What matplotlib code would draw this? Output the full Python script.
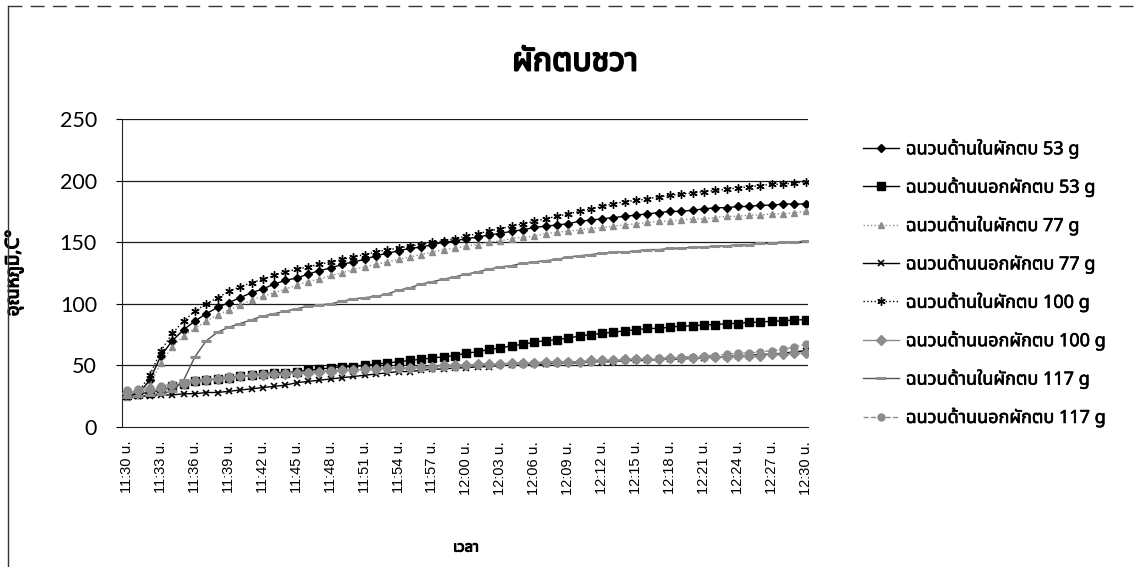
import matplotlib
matplotlib.use("Agg")
import matplotlib.pyplot as plt
import matplotlib.patheffects as pe
from matplotlib import font_manager
from matplotlib.ft2font import FT2Font
from matplotlib.lines import Line2D

# ---------------------------------------------------------------- data
times = [f"{11 + (30 + m) // 60}:{(30 + m) % 60:02d} น." for m in range(61)]
tick_idx = list(range(0, 61, 3))

in_53 = [25, 27, 38, 58, 70, 79, 86, 92, 97, 101,
         105, 109, 112, 116, 119, 121, 124, 127, 129, 132,
         134, 136, 139, 141, 143, 145, 146, 148, 150, 151,
         153, 154, 156, 157, 159, 160, 162, 163, 164, 165,
         167, 168, 169, 170, 171, 172, 173, 174, 175, 175,
         176, 177, 178, 178, 179, 179, 180, 180, 181, 181,
         181]
out_53 = [26, 27, 28, 30, 33, 35, 37, 38, 39, 40,
          41, 42, 43, 44, 44, 45, 46, 47, 48, 49,
          49, 50, 51, 52, 53, 54, 55, 56, 57, 58,
          60, 61, 63, 64, 66, 67, 69, 70, 71, 72,
          74, 75, 76, 77, 78, 79, 80, 80, 81, 82,
          82, 83, 83, 84, 84, 85, 85, 86, 86, 87,
          87]
in_77 = [24, 26, 34, 52, 65, 74, 80, 86, 91, 95,
         99, 103, 106, 109, 112, 115, 118, 120, 123, 125,
         128, 130, 132, 134, 136, 138, 140, 142, 144, 145,
         147, 148, 150, 151, 153, 154, 155, 157, 158, 159,
         160, 161, 162, 163, 164, 165, 166, 167, 167, 168,
         169, 169, 170, 171, 171, 172, 172, 173, 173, 174,
         175]
out_77 = [24, 25, 25, 26, 26, 27, 27, 28, 28, 29,
          30, 31, 32, 33, 34, 36, 37, 38, 39, 40,
          41, 42, 43, 44, 45, 45, 46, 47, 47, 48,
          48, 49, 49, 50, 50, 51, 51, 51, 52, 52,
          52, 53, 53, 53, 54, 54, 54, 55, 55, 55,
          56, 56, 57, 57, 58, 58, 59, 59, 60, 61,
          62]
in_100 = [26, 28, 42, 62, 76, 86, 94, 100, 105, 110,
          114, 117, 120, 123, 126, 128, 130, 132, 134, 136,
          138, 140, 142, 144, 145, 147, 148, 150, 151, 153,
          155, 157, 159, 161, 163, 165, 167, 169, 171, 173,
          175, 177, 179, 181, 183, 184, 185, 187, 188, 189,
          190, 191, 192, 193, 194, 195, 196, 197, 197, 198,
          199]
out_100 = [28, 29, 30, 31, 33, 35, 37, 38, 39, 40,
           41, 42, 42, 43, 43, 44, 44, 45, 45, 46,
           46, 47, 47, 48, 48, 48, 49, 49, 50, 50,
           50, 51, 51, 51, 52, 52, 52, 53, 53, 53,
           53, 54, 54, 54, 55, 55, 55, 55, 56, 56,
           56, 57, 57, 57, 58, 58, 58, 59, 59, 60,
           60]
in_117 = [24, 25, 26, 27, 29, 38, 57, 70, 77, 81,
          84, 87, 90, 92, 94, 96, 98, 99, 100, 102,
          104, 105, 106, 108, 111, 113, 116, 118, 120, 122,
          124, 126, 128, 130, 131, 133, 134, 135, 136, 138,
          139, 140, 141, 142, 142, 143, 144, 144, 145, 145,
          146, 146, 147, 147, 148, 148, 149, 149, 150, 150,
          151]
out_117 = [30, 31, 32, 33, 35, 36, 38, 39, 40, 41,
           41, 42, 43, 43, 44, 44, 45, 45, 46, 46,
           46, 47, 47, 47, 48, 48, 48, 49, 49, 49,
           50, 50, 50, 51, 51, 51, 52, 52, 52, 53,
           53, 53, 54, 54, 54, 55, 55, 56, 56, 57,
           57, 58, 58, 59, 60, 60, 61, 62, 63, 65,
           67]

labels = ["ฉนวนด้านในผักตบ 53 g", "ฉนวนด้านนอกผักตบ 53 g",
          "ฉนวนด้านในผักตบ 77 g", "ฉนวนด้านนอกผักตบ 77 g",
          "ฉนวนด้านในผักตบ 100 g", "ฉนวนด้านนอกผักตบ 100 g",
          "ฉนวนด้านในผักตบ 117 g", "ฉนวนด้านนอกผักตบ 117 g"]
series = [in_53, out_53, in_77, out_77, in_100, out_100, in_117, out_117]
y_ticks = [0, 50, 100, 150, 200, 250]


# ---------------------------------------------------------------- fonts
def thai_capable_family():
    preferred = ["Tahoma", "Leelawadee UI", "Noto Sans Thai", "Noto Sans Thai UI",
                 "Loma", "Garuda", "Kinnari", "Norasi", "Sarabun", "Umpush",
                 "Waree", "Tlwg Typo", "FreeSans"]
    found = []
    for fe in font_manager.fontManager.ttflist:
        try:
            cmap = FT2Font(fe.fname).get_charmap()
        except Exception:
            continue
        if 0x0E1C in cmap and 0x0E32 in cmap and 0x0E27 in cmap:
            found.append(fe.name)
    for name in preferred:
        if name in found:
            return name
    return found[0] if found else "DejaVu Sans"


THAI = thai_capable_family()
TEXT_FAMILY = [THAI, "DejaVu Sans"]
plt.rcParams["font.family"] = TEXT_FAMILY


def heavy(width):
    # thicken glyph strokes so the Thai text reads as bold
    return [pe.withStroke(linewidth=width, foreground="black")]


# ---------------------------------------------------------------- styles
GREY = "#8c8c8c"
styles = [
    dict(color="black", ls="-", lw=1.0, marker="D", ms=4.5, mfc="black", mec="black"),
    dict(color="black", ls="-", lw=1.0, marker="s", ms=5.5, mfc="black", mec="black"),
    dict(color=GREY, ls=":", lw=1.0, marker="^", ms=5, mfc=GREY, mec=GREY),
    dict(color="black", ls="-", lw=1.0, marker="x", ms=5, mfc="black", mec="black", mew=1.2),
    dict(color="black", ls=":", lw=1.0, marker=(6, 2, 0), ms=6, mfc="black", mec="black", mew=1.0),
    dict(color=GREY, ls="-", lw=1.0, marker="D", ms=5, mfc=GREY, mec=GREY),
    dict(color="#555555", ls="-", lw=1.0, marker="_", ms=7, mfc=GREY, mec=GREY, mew=2.2),
    dict(color=GREY, ls="--", lw=1.0, marker="o", ms=5, mfc=GREY, mec=GREY),
]

# ---------------------------------------------------------------- figure
W, H = 1135, 567
fig = plt.figure(figsize=(W / 100, H / 100), dpi=100)
fig.patch.set_facecolor("white")

ax_l, ax_r, ax_t, ax_b = 122, 808, 119, 427
ax = fig.add_axes([ax_l / W, 1 - ax_b / H, (ax_r - ax_l) / W, (ax_b - ax_t) / H])

x = list(range(len(times)))
handles = []
for data, st, lab in zip(series, styles, labels):
    (h,) = ax.plot(x, data, label=lab, zorder=3, **st)
    handles.append(h)

ax.set_ylim(0, 250)
ax.set_xlim(-0.45, 60.2)
ax.set_yticks(y_ticks)
ax.set_yticklabels([str(v) for v in y_ticks], fontsize=15.5, family=["Lato", "DejaVu Sans"])
ax.set_xticks(tick_idx)
ax.set_xticklabels([times[i] for i in tick_idx], rotation=90, fontsize=10.5,
                   family=["Liberation Sans"] + TEXT_FAMILY)

for v in y_ticks[1:]:
    ax.axhline(v, color="#1a1a1a", lw=0.9, zorder=1)

for side in ("top", "right"):
    ax.spines[side].set_visible(False)
ax.spines["left"].set_color("#222222")
ax.spines["bottom"].set_color("#222222")
ax.tick_params(axis="y", length=4, width=0.8, pad=14, colors="black")
ax.tick_params(axis="x", length=0, pad=10)

ax.set_ylabel("อุณหภูมิ,C°", fontsize=13.5, labelpad=26, path_effects=heavy(0.9))
fig.text(466 / W, 1 - 548 / H, "เวลา", ha="center", va="center",
         fontsize=10.5, path_effects=heavy(0.8))
fig.text(575 / W, 1 - 62 / H, "ผักตบชวา", ha="center", va="center",
         fontsize=23, path_effects=heavy(1.4))

leg = fig.legend(handles=handles, loc="upper left",
                 bbox_to_anchor=(856 / W, 1 - 132 / H), frameon=False,
                 fontsize=13, handlelength=2.0, handletextpad=0.35,
                 labelspacing=1.07, borderaxespad=0)
for t in leg.get_texts():
    t.set_path_effects(heavy(0.45))

# outer chart-area border (top and left edges)
fig.add_artist(Line2D([8 / W, 1.0], [1 - 6 / H, 1 - 6 / H], transform=fig.transFigure,
                      color="#333333", lw=1.0, ls=(0, (10, 6))))
fig.add_artist(Line2D([8 / W, 8 / W], [1 - 6 / H, 0.0], transform=fig.transFigure,
                      color="#333333", lw=1.0))

fig.savefig("out.png", dpi=100, facecolor="white")
